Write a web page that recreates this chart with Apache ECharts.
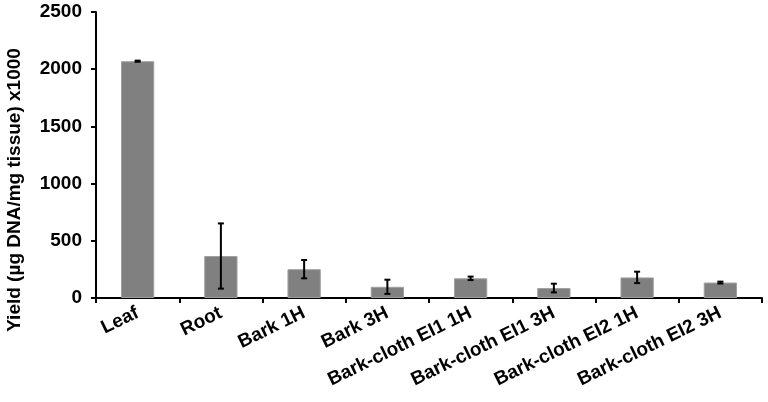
<!DOCTYPE html>
<html>
<head>
<meta charset="utf-8">
<script src="https://cdn.jsdelivr.net/npm/echarts@6/dist/echarts.min.js"></script>
<style>html,body{margin:0;padding:0;background:#fff;}#c{width:768px;height:402px;}</style>
</head>
<body>
<div id="c"></div>
<script>
var categories = ['Leaf', 'Root', 'Bark 1H', 'Bark 3H', 'Bark-cloth EI1 1H', 'Bark-cloth EI1 3H', 'Bark-cloth EI2 1H', 'Bark-cloth EI2 3H'];
var yieldValues = [2070, 367, 252, 98, 172, 87, 180, 135];
var errorValues = [5, 285, 80, 62, 15, 38, 50, 8];
var yTicks = [0, 500, 1000, 1500, 2000, 2500];

var font = '"Liberation Sans", Arial, sans-serif';
var chart = echarts.init(document.getElementById('c'));
var errData = categories.map(function (c, i) {
  return [i, yieldValues[i] - errorValues[i], yieldValues[i] + errorValues[i]];
});
chart.setOption({
  animation: false,
  grid: { left: 96, right: 6, top: 12, bottom: 104 },
  xAxis: {
    type: 'category',
    data: categories,
    axisLine: { lineStyle: { color: '#000', width: 2 } },
    axisTick: { show: true, length: 5, lineStyle: { color: '#000', width: 2 } },
    axisLabel: { rotate: 26, margin: 14, color: '#000', fontFamily: font, fontWeight: 'bold', fontSize: 19 }
  },
  yAxis: {
    type: 'value',
    min: yTicks[0],
    max: yTicks[yTicks.length - 1],
    interval: 500,
    axisLine: { show: true, lineStyle: { color: '#000', width: 2 } },
    axisTick: { show: true, length: 5, lineStyle: { color: '#000', width: 2 } },
    splitLine: { show: false },
    axisLabel: { margin: 14, color: '#000', fontFamily: font, fontWeight: 'bold', fontSize: 19,
      formatter: function (v) { return String(v); } }
  },
  graphic: [{
    type: 'text',
    x: 15,
    y: 190,
    rotation: Math.PI / 2,
    style: {
      text: 'Yield (µg DNA/mg tissue) x1000',
      fill: '#000',
      font: 'bold 19px ' + font,
      textAlign: 'center',
      textVerticalAlign: 'middle'
    }
  }],
  series: [{
    type: 'bar',
    data: yieldValues,
    barWidth: '40%',
    itemStyle: { color: '#808080', borderColor: '#a0a0a0', borderWidth: 1 }
  }, {
    type: 'custom',
    data: errData,
    z: 10,
    renderItem: function (params, api) {
      var x = api.value(0);
      var lo = api.coord([x, api.value(1)]);
      var hi = api.coord([x, api.value(2)]);
      var hw = 3;
      var st = { stroke: '#000', lineWidth: 2 };
      return {
        type: 'group',
        children: [
          { type: 'line', shape: { x1: lo[0], y1: lo[1], x2: hi[0], y2: hi[1] }, style: st },
          { type: 'line', shape: { x1: lo[0] - hw, y1: lo[1], x2: lo[0] + hw, y2: lo[1] }, style: st },
          { type: 'line', shape: { x1: hi[0] - hw, y1: hi[1], x2: hi[0] + hw, y2: hi[1] }, style: st }
        ]
      };
    }
  }]
});
</script>
</body>
</html>
